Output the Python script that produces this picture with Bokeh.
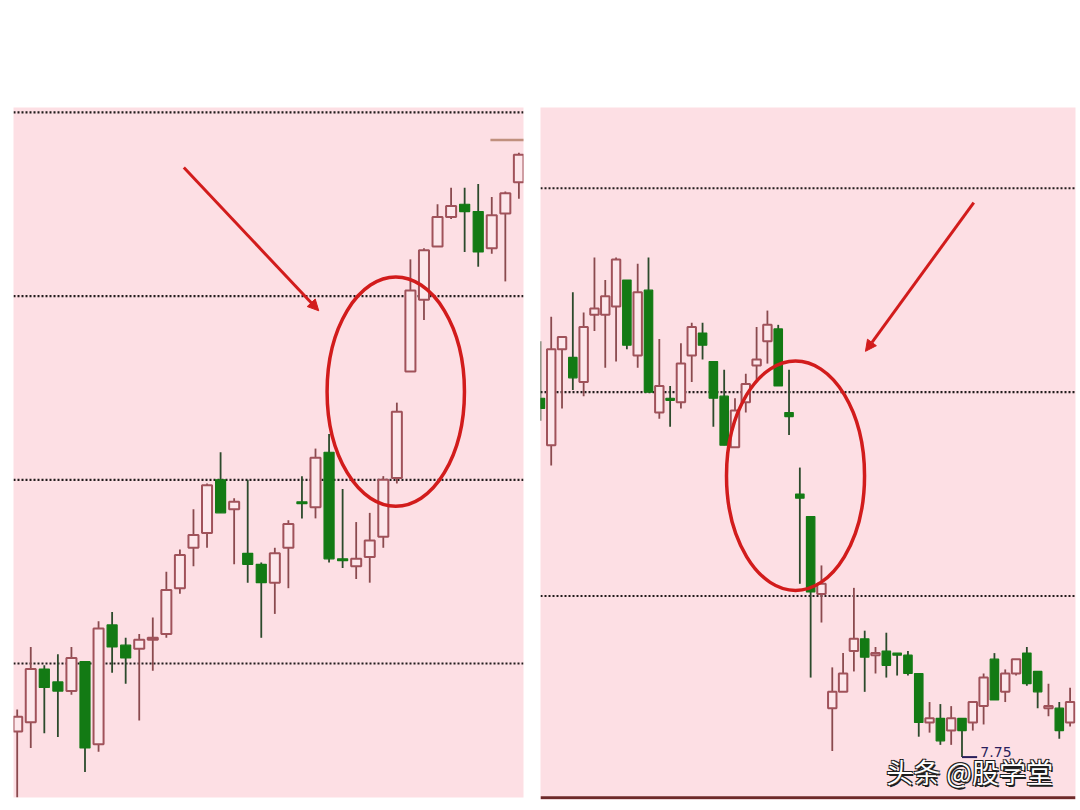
from bokeh.plotting import figure
from bokeh.layouts import row
from bokeh.models import Range1d, Span, Arrow, NormalHead
from bokeh.core.properties import value
from bokeh.embed import file_html
from bokeh.resources import INLINE

# ---------------- data: left chart (38 sessions) ----------------
left_open = [8.63, 8.68, 8.97, 8.90, 8.85, 9.01, 8.56, 9.21, 9.10, 9.08,
             9.13, 9.16, 9.41, 9.63, 9.71, 10.00, 9.84, 9.60, 9.54, 9.44,
             9.63, 9.88, 9.85, 10.15, 9.57, 9.53, 9.58, 9.69, 10.01, 10.59,
             10.98, 11.27, 11.43, 11.50, 11.46, 11.26, 11.45, 11.62]
left_high = [8.75, 9.09, 8.99, 9.05, 9.09, 9.01, 9.23, 9.28, 9.14, 9.16,
             9.25, 9.50, 9.62, 9.84, 9.98, 10.15, 9.90, 10.00, 9.55, 9.63,
             9.78, 10.02, 10.17, 10.25, 9.95, 9.77, 9.82, 10.02, 10.42, 11.20,
             11.26, 11.50, 11.59, 11.59, 11.61, 11.54, 11.57, 11.78]
left_low = [8.27, 8.54, 8.62, 8.60, 8.83, 8.41, 8.52, 8.95, 8.89, 8.69,
            8.96, 9.14, 9.38, 9.53, 9.63, 9.82, 9.54, 9.44, 9.14, 9.27,
            9.41, 9.79, 9.79, 9.55, 9.52, 9.46, 9.44, 9.63, 9.98, 10.59,
            10.87, 11.27, 11.42, 11.24, 11.16, 11.23, 11.08, 11.53]
left_close = [8.71, 8.97, 8.87, 8.85, 9.03, 8.54, 9.19, 9.09, 9.03, 9.13,
              9.14, 9.40, 9.59, 9.70, 9.97, 9.82, 9.88, 9.54, 9.44, 9.60,
              9.76, 9.87, 10.12, 9.57, 9.56, 9.57, 9.67, 10.00, 10.37, 11.03,
              11.25, 11.43, 11.49, 11.46, 11.24, 11.44, 11.56, 11.77]
left_grid = [9.0, 10.0, 11.0, 12.0]
left_marker_price = 11.85

# ---------------- data: right chart (50 sessions) ----------------
right_open = [9.47, 9.24, 9.71, 9.67, 9.55, 9.88, 9.88, 9.92, 10.05, 9.68,
              10.00, 9.40, 9.47, 9.45, 9.68, 9.79, 9.65, 9.48, 9.23, 9.45,
              9.63, 9.75, 9.81, 9.40, 9.00, 8.89, 8.51, 7.95, 8.03, 8.23,
              8.29, 8.21, 8.23, 8.22, 8.21, 8.12, 7.88, 7.90, 7.84, 7.90,
              7.88, 7.96, 8.19, 8.03, 8.12, 8.22, 8.13, 7.95, 7.95, 7.88]
right_high = [9.75, 9.87, 9.77, 9.99, 9.89, 10.16, 10.05, 10.16, 10.05, 10.13,
              10.16, 9.76, 9.53, 9.74, 9.84, 9.84, 9.65, 9.61, 9.47, 9.59,
              9.82, 9.90, 9.83, 9.61, 9.13, 8.89, 8.65, 8.15, 8.22, 8.54,
              8.33, 8.25, 8.32, 8.22, 8.23, 8.12, 7.98, 7.97, 7.96, 7.90,
              7.98, 8.12, 8.22, 8.14, 8.19, 8.25, 8.13, 8.07, 7.98, 8.05]
right_low = [9.36, 9.14, 9.42, 9.51, 9.48, 9.80, 9.62, 9.65, 9.71, 9.62,
             9.50, 9.37, 9.33, 9.42, 9.55, 9.66, 9.33, 9.24, 9.23, 9.40,
             9.56, 9.64, 9.53, 9.29, 8.56, 8.10, 8.37, 7.74, 8.03, 8.13,
             8.03, 8.12, 8.10, 8.11, 8.11, 7.81, 7.83, 7.77, 7.77, 7.71,
             7.84, 7.87, 7.99, 7.98, 8.11, 8.06, 7.95, 7.91, 7.80, 7.86]
right_close = [9.42, 9.71, 9.77, 9.57, 9.82, 9.91, 9.97, 10.15, 9.73, 9.99,
               9.50, 9.53, 9.46, 9.64, 9.82, 9.73, 9.47, 9.24, 9.41, 9.54,
               9.66, 9.83, 9.53, 9.38, 8.98, 8.52, 8.56, 8.03, 8.12, 8.29,
               8.20, 8.22, 8.16, 8.21, 8.12, 7.88, 7.90, 7.79, 7.90, 7.84,
               7.98, 8.10, 7.99, 8.12, 8.19, 8.07, 8.03, 7.96, 7.84, 7.98]
right_grid = [8.5, 9.5, 10.5]
low_label = "7.75"
watermark = "头条 @股学堂"

# ---------------- styles ----------------
BG = "#fddfe4"
UP_FILL = "#fde7eb"
UP_LINE = "#a0525a"
UP_WICK = "#8a4a4e"
DN_FILL = "#137a14"
DN_WICK = "#2c4a2c"
GRID = "#221c1c"
RED = "#d21c1c"


def draw_candles(p, o, h, l, c, body_w):
    xs = list(range(len(o)))
    up = [i for i in xs if c[i] >= o[i]]
    dn = [i for i in xs if c[i] < o[i]]
    p.segment(x0=up, y0=[h[i] for i in up], x1=up, y1=[l[i] for i in up],
              line_color=UP_WICK, line_width=1.8)
    p.segment(x0=dn, y0=[h[i] for i in dn], x1=dn, y1=[l[i] for i in dn],
              line_color=DN_WICK, line_width=1.8)
    p.vbar(x=up, width=body_w, bottom=[o[i] for i in up], top=[c[i] for i in up],
           fill_color=UP_FILL, line_color=UP_LINE, line_width=2)
    p.vbar(x=dn, width=body_w, top=[o[i] for i in dn], bottom=[c[i] for i in dn],
           fill_color=DN_FILL, line_color=DN_FILL, line_width=1.2)


def base_fig(w, h, xr, yr, bl, br, bt, bb):
    p = figure(width=w, height=h, x_range=Range1d(*xr), y_range=Range1d(*yr),
               output_backend="svg", toolbar_location=None,
               x_axis_location=None, y_axis_location=None,
               min_border_left=bl, min_border_right=br,
               min_border_top=bt, min_border_bottom=bb,
               background_fill_color=BG, border_fill_color="white",
               outline_line_color=None)
    p.xgrid.visible = False
    p.ygrid.visible = False
    return p


# ---------------- left panel ----------------
f1 = base_fig(531, 802, (-0.273, 37.34), (8.2706, 12.0267), 13, 8, 107, 5)
for g in left_grid:
    f1.add_layout(Span(location=g, dimension="width", line_color=GRID,
                       line_width=2.2, line_dash="2 2", level="underlay"))
draw_candles(f1, left_open, left_high, left_low, left_close, 0.74)
f1.segment(x0=[34.9], y0=[left_marker_price], x1=[37.4], y1=[left_marker_price],
           line_color="#c0907e", line_width=2.5)
f1.ellipse(x=[27.92], y=[10.48], width=10.13, height=1.248,
           fill_color=None, line_color=RED, line_width=3.5)
f1.add_layout(Arrow(end=NormalHead(size=11, fill_color=RED, line_color=RED),
                    x_start=12.29, y_start=11.70, x_end=22.24, y_end=10.92,
                    line_color=RED, line_width=3))

# ---------------- right panel ----------------
f2 = base_fig(547, 804, (0.009, 49.5), (7.502, 10.896), 9, 3, 107, 3)
for g in right_grid:
    f2.add_layout(Span(location=g, dimension="width", line_color=GRID,
                       line_width=2.2, line_dash="2 2", level="underlay"))
draw_candles(f2, right_open, right_high, right_low, right_close, 0.78)
f2.ellipse(x=[23.6], y=[9.09], width=12.77, height=1.125,
           fill_color=None, line_color=RED, line_width=3.5)
f2.add_layout(Arrow(end=NormalHead(size=11, fill_color=RED, line_color=RED),
                    x_start=40.09, y_start=10.43, x_end=30.07, y_end=9.70,
                    line_color=RED, line_width=3))
# lowest price marker
low_i = right_low.index(min(right_low))
f2.segment(x0=[low_i], y0=[right_low[low_i]], x1=[low_i + 1.4], y1=[right_low[low_i]],
           line_color="#2a1f5c", line_width=2)
f2.text(x=[low_i + 1.7], y=[right_low[low_i]], text=[low_label],
        text_font=value("DejaVu Sans"), text_font_size="14px",
        text_color="#2a1f5c", text_baseline="bottom", text_align="left")
# bottom rule
f2.add_layout(Span(location=7.51, dimension="width", line_color="#6e2a2a", line_width=3))
# watermark (white text with dark outline)
for dx, dy in [(1.5, 1.5), (-1, 1), (1, -1), (-1, -1)]:
    f2.text(x=[32.0], y=[7.637], text=[watermark], x_offset=dx, y_offset=dy,
            text_font=value("Noto Sans CJK SC"), text_font_size="27px",
            text_color="#1e1e1e", text_baseline="middle", text_align="left")
f2.text(x=[32.0], y=[7.637], text=[watermark],
        text_font=value("Noto Sans CJK SC"), text_font_size="27px",
        text_color="white", text_baseline="middle", text_align="left")

layout = row(f1, f2)
open("out.html", "w").write(file_html(layout, INLINE))
